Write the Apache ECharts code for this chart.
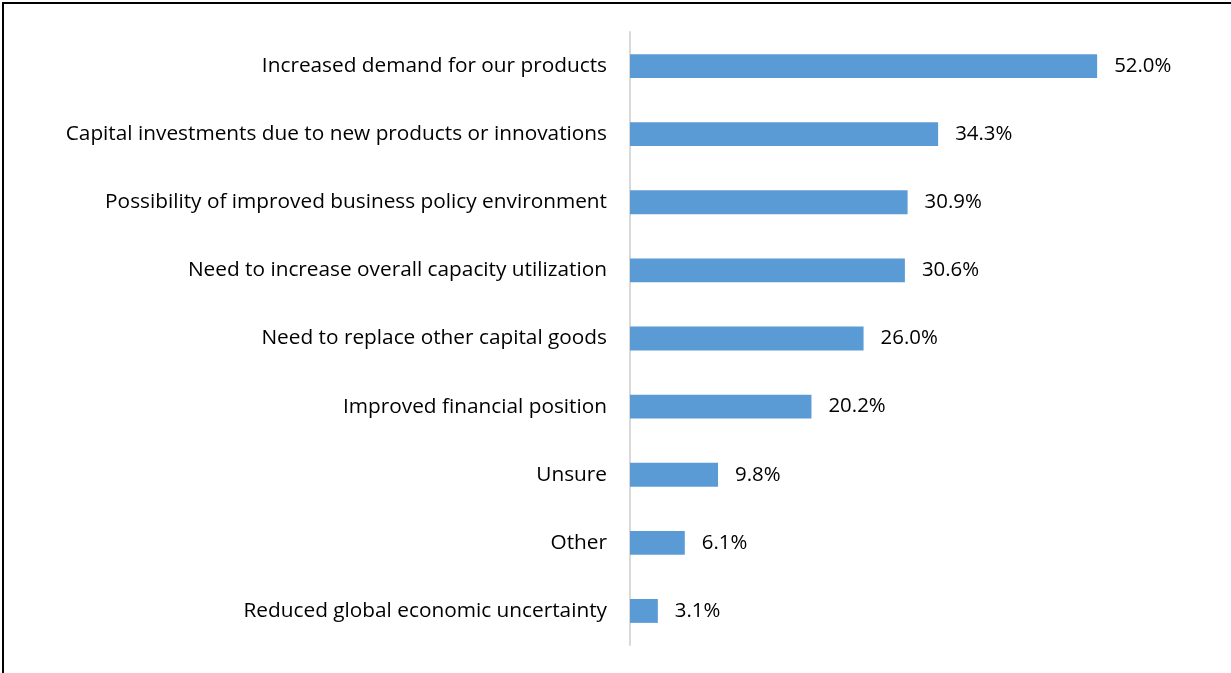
<!DOCTYPE html>
<html>
<head>
<meta charset="utf-8">
<script src="https://cdn.jsdelivr.net/npm/echarts@6/dist/echarts.min.js"></script>
<style>
html,body{margin:0;padding:0;background:#fff;}
#frame{position:absolute;left:2px;top:2px;width:1229px;height:671px;border-left:2px solid #000;border-top:2px solid #000;box-sizing:border-box;}
#chart{position:absolute;left:0;top:0;width:1231px;height:673px;}
</style>
</head>
<body>
<div id="frame"></div>
<div id="chart"></div>
<script>
const categories = [
  "Increased demand for our products",
  "Capital investments due to new products or innovations",
  "Possibility of improved business policy environment",
  "Need to increase overall capacity utilization",
  "Need to replace other capital goods",
  "Improved financial position",
  "Unsure",
  "Other",
  "Reduced global economic uncertainty"
];
const values = [52.0, 34.3, 30.9, 30.6, 26.0, 20.2, 9.8, 6.1, 3.1];

const chart = echarts.init(document.getElementById('chart'));
chart.setOption({
  animation: false,
  grid: { left: 630, right: 62, top: 32, bottom: 28, containLabel: false },
  xAxis: {
    type: 'value', min: 0, max: 60,
    show: false
  },
  yAxis: {
    type: 'category', data: categories, inverse: true,
    axisLine: { show: true, lineStyle: { color: '#d9d9d9', width: 2 } },
    axisTick: { show: false },
    axisLabel: { color: '#000', fontFamily: 'Open Sans', fontSize: 20.8, margin: 23 }
  },
  series: [{
    type: 'bar', data: values, barWidth: '35%',
    itemStyle: { color: '#5b9bd5' },
    label: {
      show: true, position: 'right', distance: 17,
      color: '#000', fontFamily: 'Open Sans', fontSize: 20.4,
      formatter: p => p.value.toFixed(1) + '%'
    }
  }]
});
</script>
</body>
</html>
